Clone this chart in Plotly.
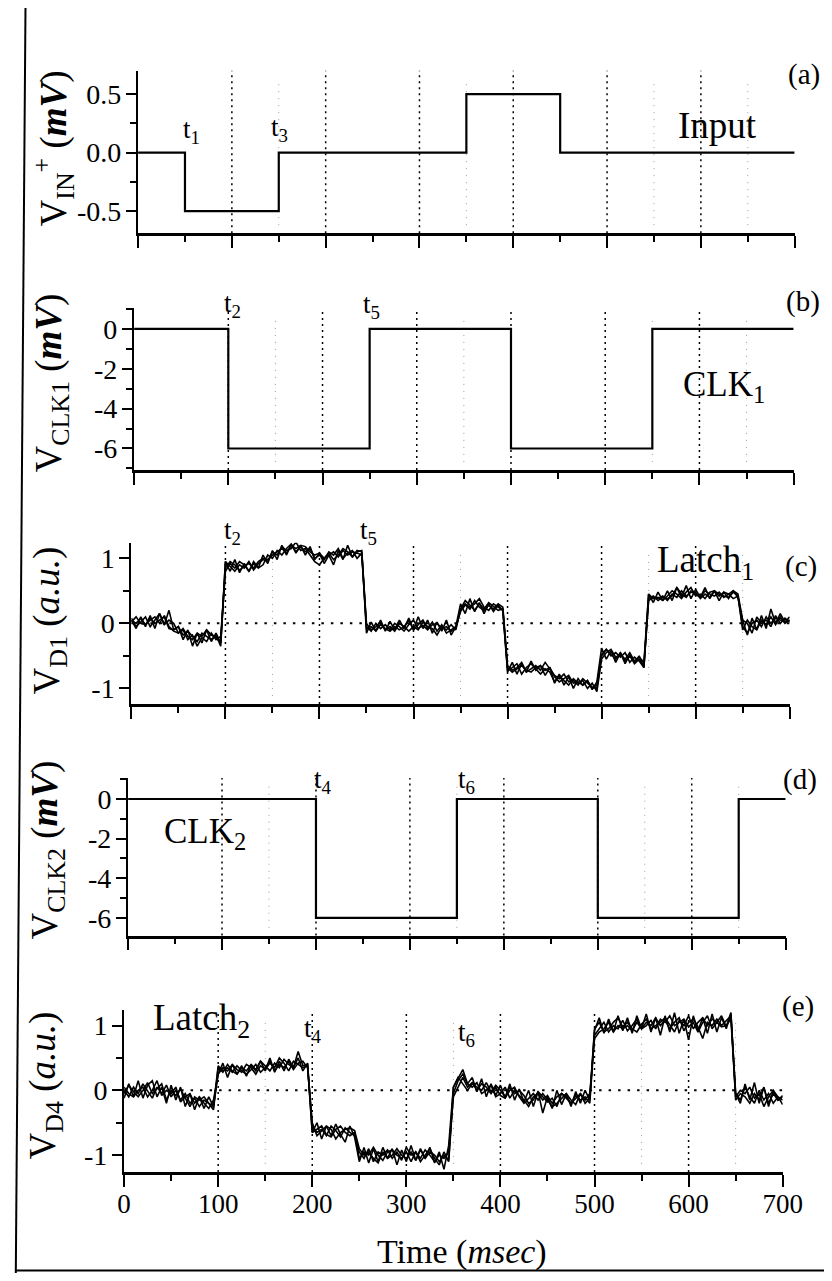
import plotly.graph_objects as go

# ---------------- data ----------------
t_ms = list(range(0, 705, 5))  # sample times of the latch recordings (ms)

input_t = [0, 50, 150, 350, 450, 700]
input_v = [0.0, -0.5, 0.0, 0.5, 0.0, 0.0]

clk1_t = [0, 100, 250, 400, 550, 700]
clk1_v = [0, -6, 0, -6, 0, 0]

clk2_t = [0, 200, 350, 500, 650, 700]
clk2_v = [0, -6, 0, -6, 0, 0]

latch1_a = [0.05, 0.0, 0.08, -0.02, 0.05, 0.1, 0.0, 0.12, -0.05, -0.12, -0.15, -0.08, -0.2, -0.25, -0.15, -0.2, -0.1, -0.18, -0.22, -0.3,
            0.85, 0.95, 0.9, 0.82, 0.88, 0.92, 0.85, 0.95, 1.0, 0.98, 1.05, 1.1, 1.15, 1.08, 1.2, 1.15, 1.2, 1.18, 1.1, 1.05, 1.08, 1.0, 1.05, 1.1, 1.02, 1.12, 1.05, 1.1, 1.08, 1.05,
            -0.05, -0.12, 0.0, -0.08, -0.02, -0.1, 0.0, -0.05, -0.12, -0.02, 0.05, -0.08, -0.03, -0.1, -0.02, 0.0, -0.08, -0.05, -0.12, -0.08,
            0.2, 0.3, 0.22, 0.35, 0.25, 0.2, 0.28, 0.22, 0.3, 0.25,
            -0.65, -0.72, -0.68, -0.6, -0.75, -0.7, -0.65, -0.72, -0.6, -0.7,
            -0.8, -0.85, -0.78, -0.9, -0.88, -0.95, -0.85, -0.92, -0.98, -1.0,
            -0.5, -0.4, -0.48, -0.55, -0.45, -0.58, -0.5, -0.62, -0.55, -0.65,
            0.35, 0.4, 0.38, 0.42, 0.35, 0.45, 0.4, 0.5, 0.42, 0.48, 0.45, 0.4, 0.5, 0.45, 0.42, 0.48, 0.4, 0.45, 0.38, 0.42,
            -0.05, -0.15, 0.0, 0.05, -0.05, 0.1, 0.0, 0.08, 0.05, 0.02, 0.05]
latch1_b = [0.05, -0.08, 0.1, -0.05, 0.12, -0.08, 0.15, -0.02, 0.2, -0.1, -0.05, -0.25, -0.1, -0.35, -0.15, -0.3, -0.1, -0.28, -0.15, -0.3,
            0.95, 0.8, 0.98, 0.78, 0.92, 0.8, 0.95, 0.85, 1.05, 0.92, 1.12, 0.98, 1.2, 1.05, 1.22, 1.08, 1.2, 1.05, 1.18, 0.98, 1.08, 0.92, 1.05, 0.9, 1.12, 0.98, 1.2, 1.02, 1.12, 1.1,
            -0.15, 0.02, -0.12, 0.05, -0.12, 0.03, -0.1, 0.05, -0.08, 0.08, -0.1, 0.1, -0.08, 0.05, -0.15, 0.02, -0.12, 0.05, -0.18, -0.05,
            0.3, 0.15, 0.38, 0.18, 0.32, 0.15, 0.3, 0.18, 0.28, 0.2,
            -0.75, -0.6, -0.78, -0.62, -0.75, -0.58, -0.72, -0.65, -0.8, -0.68,
            -0.92, -0.78, -0.95, -0.82, -1.0, -0.85, -0.95, -0.88, -1.02, -0.9,
            -0.38, -0.55, -0.42, -0.6, -0.45, -0.62, -0.48, -0.6, -0.5, -0.68,
            0.45, 0.32, 0.48, 0.35, 0.5, 0.35, 0.55, 0.4, 0.58, 0.38, 0.52, 0.4, 0.55, 0.38, 0.5, 0.35, 0.48, 0.38, 0.5, 0.4,
            0.05, -0.18, 0.08, -0.1, 0.12, -0.08, 0.22, 0.0, 0.15, 0.02, 0.1]
latch1_c = [0.08, -0.05, 0.02, 0.1, -0.05, 0.05, 0.15, -0.02, 0.05, 0.0, -0.15, -0.1, -0.25, -0.18, -0.35, -0.22, -0.28, -0.15, -0.25, -0.2,
            0.8, 0.92, 0.85, 0.95, 0.9, 0.8, 0.92, 0.85, 0.9, 1.05, 1.0, 1.12, 1.05, 1.15, 1.22, 1.1, 1.18, 1.1, 1.15, 1.0, 1.05, 0.98, 1.1, 1.05, 1.15, 1.0, 1.08, 1.12, 1.0, 1.08,
            0.0, -0.1, -0.05, 0.02, -0.1, -0.05, -0.12, 0.0, -0.05, 0.05, -0.1, -0.02, 0.05, -0.08, 0.02, -0.12, -0.02, -0.15, -0.1, -0.05,
            0.18, 0.28, 0.25, 0.3, 0.38, 0.25, 0.2, 0.3, 0.25, 0.2,
            -0.72, -0.68, -0.62, -0.78, -0.68, -0.62, -0.7, -0.78, -0.7, -0.75,
            -0.9, -0.8, -0.88, -0.95, -0.85, -0.92, -0.88, -1.0, -0.92, -1.05,
            -0.55, -0.45, -0.4, -0.52, -0.48, -0.55, -0.45, -0.58, -0.52, -0.6,
            0.45, 0.38, 0.4, 0.35, 0.42, 0.5, 0.45, 0.38, 0.48, 0.55, 0.42, 0.45, 0.38, 0.48, 0.5, 0.42, 0.48, 0.45, 0.5, 0.45,
            0.05, 0.0, -0.15, 0.1, 0.0, 0.05, -0.05, 0.12, 0.0, 0.08, 0.02]
latch1_d = [0.02, 0.1, 0.0, -0.02, 0.08, 0.0, 0.05, 0.1, -0.08, -0.1, -0.05, -0.18, -0.12, -0.2, -0.28, -0.15, -0.2, -0.25, -0.18, -0.35,
            0.95, 0.88, 0.8, 0.9, 0.85, 0.95, 0.82, 0.92, 0.98, 0.95, 1.1, 1.05, 1.18, 1.12, 1.15, 1.25, 1.12, 1.15, 1.05, 0.95, 0.9, 1.0, 1.08, 0.98, 1.05, 1.15, 1.1, 1.02, 1.1, 1.12,
            -0.08, -0.05, -0.12, -0.02, -0.08, -0.12, -0.05, -0.1, -0.05, -0.12, -0.05, -0.1, 0.02, -0.05, -0.08, -0.18, -0.05, -0.1, -0.02, -0.1,
            0.22, 0.35, 0.28, 0.2, 0.3, 0.22, 0.32, 0.26, 0.2, 0.22,
            -0.68, -0.75, -0.7, -0.65, -0.72, -0.75, -0.68, -0.65, -0.72, -0.68,
            -0.82, -0.9, -0.85, -0.8, -0.92, -0.9, -0.95, -0.88, -1.0, -0.95,
            -0.48, -0.4, -0.5, -0.45, -0.52, -0.45, -0.6, -0.52, -0.58, -0.68,
            0.38, 0.42, 0.35, 0.4, 0.38, 0.42, 0.55, 0.45, 0.4, 0.5, 0.48, 0.38, 0.45, 0.4, 0.5, 0.45, 0.42, 0.4, 0.48, 0.42,
            -0.1, 0.05, -0.05, -0.1, 0.05, -0.02, 0.1, -0.02, 0.1, 0.0, 0.05]

latch2_a = [0.0, -0.1, 0.05, -0.05, 0.1, -0.02, -0.12, 0.05, -0.05, 0.08, -0.1, 0.0, -0.15, -0.05, -0.2, -0.12, -0.25, -0.15, -0.2, -0.3,
            0.35, 0.28, 0.4, 0.3, 0.25, 0.35, 0.3, 0.4, 0.32, 0.45, 0.38, 0.3, 0.42, 0.35, 0.48, 0.4, 0.35, 0.6, 0.38, 0.4,
            -0.55, -0.65, -0.6, -0.7, -0.55, -0.62, -0.72, -0.58, -0.65, -0.7,
            -0.95, -1.05, -0.9, -1.1, -0.95, -1.0, -0.92, -1.05, -0.95, -1.08, -0.88, -1.0, -0.95, -1.1, -1.0, -0.9, -1.05, -1.15, -0.95, -1.1,
            -0.05, 0.15, 0.25, 0.1, 0.05, 0.12, -0.05, 0.0, 0.08, -0.1, -0.05, 0.05, -0.12, 0.0, -0.08, -0.15, -0.25, -0.1, -0.05, -0.15, -0.08, -0.2, -0.1, -0.05, -0.12, -0.2, -0.08, -0.15, -0.1, -0.2,
            0.85, 0.95, 1.05, 0.9, 1.0, 0.95, 1.08, 0.92, 1.0, 1.1, 0.95, 1.05, 1.0, 1.12, 1.0, 1.08, 0.95, 1.05, 1.12, 0.92, 1.05, 1.1, 0.98, 0.8, 1.05, 1.0, 1.1, 1.0, 1.08, 1.15,
            -0.05, -0.15, 0.05, -0.1, -0.2, 0.0, -0.15, -0.05, -0.2, -0.1, -0.15]
latch2_b = [-0.12, 0.1, -0.1, 0.15, -0.12, 0.08, 0.15, -0.1, 0.05, -0.2, 0.08, -0.15, 0.05, -0.25, -0.05, -0.3, -0.1, -0.28, -0.1, -0.25,
            0.25, 0.42, 0.2, 0.4, 0.25, 0.38, 0.22, 0.4, 0.3, 0.45, 0.3, 0.5, 0.28, 0.45, 0.3, 0.48, 0.35, 0.5, 0.3, 0.42,
            -0.65, -0.5, -0.75, -0.55, -0.7, -0.52, -0.68, -0.8, -0.55, -0.72,
            -1.1, -0.88, -1.12, -0.9, -1.1, -0.88, -1.05, -0.9, -1.15, -0.92, -1.1, -0.85, -1.08, -0.9, -1.05, -0.88, -1.12, -0.95, -1.22, -0.85,
            0.05, 0.18, 0.32, 0.1, 0.2, -0.02, 0.18, -0.1, 0.1, -0.08, 0.08, -0.12, 0.1, -0.15, 0.02, -0.18, 0.0, -0.25, -0.02, -0.35, -0.1, -0.28, 0.0, -0.22, -0.05, -0.25, -0.02, -0.2, 0.0, -0.15,
            0.92, 1.12, 0.88, 1.1, 0.9, 1.15, 0.92, 1.12, 0.88, 1.15, 0.95, 1.18, 0.9, 1.12, 0.85, 1.15, 0.9, 1.2, 0.88, 1.1, 0.78, 1.15, 0.92, 1.12, 0.88, 1.18, 0.9, 1.12, 0.95, 1.18,
            -0.05, -0.2, 0.1, -0.15, 0.12, -0.2, 0.05, -0.25, 0.0, -0.1, -0.22]
latch2_c = [0.05, -0.05, -0.1, 0.0, 0.05, -0.1, 0.0, 0.15, -0.08, 0.0, -0.05, 0.05, -0.18, -0.1, -0.05, -0.2, -0.1, -0.2, -0.28, -0.15,
            0.25, 0.35, 0.3, 0.4, 0.32, 0.28, 0.4, 0.35, 0.25, 0.38, 0.32, 0.42, 0.35, 0.5, 0.42, 0.3, 0.45, 0.4, 0.35, 0.38,
            -0.65, -0.6, -0.55, -0.68, -0.72, -0.6, -0.55, -0.65, -0.7, -0.65,
            -1.05, -0.95, -1.0, -0.88, -1.0, -1.08, -0.95, -0.92, -1.0, -1.05, -0.95, -1.1, -0.95, -1.05, -0.92, -1.0, -1.1, -1.0, -1.05, -0.95,
            -0.1, 0.05, 0.2, 0.05, 0.12, 0.0, 0.1, 0.05, -0.05, 0.05, -0.08, -0.12, 0.0, 0.05, -0.1, -0.2, -0.12, -0.05, -0.15, -0.05, -0.15, -0.25, -0.2, -0.12, -0.05, -0.15, -0.22, -0.05, -0.15, -0.05,
            0.8, 0.9, 0.95, 1.05, 0.9, 1.0, 0.95, 1.0, 0.92, 1.05, 0.95, 1.0, 1.08, 0.95, 1.1, 1.05, 1.15, 1.0, 1.05, 1.1, 0.98, 1.05, 0.9, 1.05, 1.15, 0.95, 1.05, 0.98, 1.0, 1.1,
            -0.1, 0.0, -0.05, 0.05, -0.12, -0.05, -0.25, -0.1, 0.0, -0.15, -0.08]
latch2_d = [-0.05, 0.08, -0.02, -0.1, 0.0, 0.12, -0.05, 0.02, 0.1, -0.15, 0.0, -0.08, 0.02, -0.12, -0.25, -0.1, -0.15, -0.1, -0.2, -0.25,
            0.38, 0.3, 0.35, 0.28, 0.38, 0.3, 0.25, 0.32, 0.4, 0.28, 0.35, 0.45, 0.3, 0.4, 0.35, 0.45, 0.32, 0.42, 0.45, 0.35,
            -0.5, -0.7, -0.62, -0.55, -0.6, -0.75, -0.65, -0.6, -0.58, -0.62,
            -0.9, -1.0, -0.95, -1.05, -1.12, -0.95, -1.05, -1.0, -0.9, -1.0, -1.05, -0.95, -1.08, -0.92, -1.05, -0.95, -1.0, -1.1, -1.0, -1.08,
            0.05, 0.2, 0.1, 0.0, 0.1, 0.05, 0.0, 0.12, -0.02, 0.08, 0.0, -0.1, 0.05, -0.05, 0.0, -0.08, -0.2, -0.15, -0.02, -0.1, -0.18, -0.12, -0.25, -0.05, -0.1, -0.2, -0.12, -0.05, -0.2, -0.12,
            0.95, 1.05, 0.9, 0.95, 1.05, 1.12, 0.98, 1.05, 0.95, 0.9, 1.02, 1.1, 0.95, 1.0, 1.05, 1.12, 1.0, 0.9, 1.08, 1.0, 1.15, 0.95, 1.05, 1.12, 1.0, 1.1, 1.05, 1.15, 0.98, 1.2,
            -0.15, -0.05, -0.1, -0.2, -0.05, -0.15, 0.05, -0.2, -0.05, -0.15, -0.1]

x_major = [0, 100, 200, 300, 400, 500, 600, 700]
x_minor = [50, 150, 250, 350, 450, 550, 650]
x_ticktext = ["0", "100", "200", "300", "400", "500", "600", "700"]
grid_x = [100, 200, 300, 400, 500, 600]
faint_grid_x = [150, 350, 550, 650]

yt_a = [-0.5, 0.0, 0.5]
yt_a_text = ["-0.5", "0.0", "0.5"]
ym_a = [-0.25, 0.25]
yt_clk = [-6, -4, -2, 0]
yt_clk_text = ["-6", "-4", "-2", "0"]
ym_clk = [-7, -5, -3, -1, 1]
yt_latch = [-1, 0, 1]
yt_latch_text = ["-1", "0", "1"]
ym_latch = [-0.5, 0.5]

# ---------------- layout geometry ----------------
W, H = 843, 1265
X_OFF, X_SCALE, Y_OFF = 13.5, 0.969, 8
FONT = "Liberation Serif"


def fx(px):  # page x pixel -> paper fraction
    return (px - X_OFF) / X_SCALE / W


def fy(py):  # page y pixel -> paper fraction
    return 1 - (py - Y_OFF) / H


# (left, right, top, bottom) page pixels of each panel's plotting box
boxes = [
    (136.7, 794, 70.7, 233.3),
    (132.7, 793, 308, 470),
    (130, 789, 542.7, 704),
    (126.7, 785, 778, 935.6),
    (122.7, 782, 1010, 1172),
]
yranges = [[-0.69, 0.70], [-7.08, 1.05], [-1.24, 1.24], [-6.9, 1.06], [-1.26, 1.24]]
yticks = [(yt_a, yt_a_text, ym_a), (yt_clk, yt_clk_text, ym_clk), (yt_latch, yt_latch_text, ym_latch),
          (yt_clk, yt_clk_text, ym_clk), (yt_latch, yt_latch_text, ym_latch)]

fig = go.Figure()


def ax_names(i):
    s = "" if i == 0 else str(i + 1)
    return "x" + s, "y" + s, "xaxis" + s, "yaxis" + s


step_sets = [(input_t, input_v), (clk1_t, clk1_v), None, (clk2_t, clk2_v), None]
noisy_sets = [None, None, [latch1_a, latch1_b, latch1_c, latch1_d], None, [latch2_a, latch2_b, latch2_c, latch2_d]]

layout_axes = {}
for i in range(5):
    xr, yr, xk, yk = ax_names(i)
    l, r, t, b = boxes[i]
    layout_axes[xk] = dict(
        domain=[fx(l), fx(r)], range=[0, 700], anchor=yr,
        showline=True, linecolor="black", linewidth=2.5,
        ticks="outside", ticklen=12, tickwidth=2, tickcolor="black",
        tickmode="array", tickvals=x_major, ticktext=x_ticktext,
        showticklabels=(i == 4), ticklabelstandoff=-6,
        tickfont=dict(family=FONT, size=27, color="black"),
        minor=dict(tickmode="array", tickvals=x_minor, ticks="outside", ticklen=6, tickwidth=2, tickcolor="black"),
        showgrid=False, zeroline=False,
    )
    tv, tt, tm = yticks[i]
    layout_axes[yk] = dict(
        domain=[fy(b), fy(t)], range=yranges[i], anchor=xr,
        showline=True, linecolor="black", linewidth=2.2,
        ticks="outside", ticklen=10, tickwidth=2, tickcolor="black",
        tickmode="array", tickvals=tv, ticktext=tt, ticklabelstandoff=-1,
        tickfont=dict(family=FONT, size=28, color="black"),
        minor=dict(tickmode="array", tickvals=tm, ticks="outside", ticklen=6, tickwidth=2, tickcolor="black"),
        showgrid=False, zeroline=False,
    )
    for gx in grid_x:
        fig.add_shape(type="line", xref=xr, yref=yr + " domain", x0=gx, x1=gx, y0=0, y1=1,
                      line=dict(color="black", width=1.5, dash="2px,4px"), layer="below")
    for gx in faint_grid_x:
        fig.add_shape(type="line", xref=xr, yref=yr + " domain", x0=gx, x1=gx, y0=0.05, y1=0.95,
                      line=dict(color="#9a9a9a", width=1, dash="1px,6px"), layer="below")
    if step_sets[i] is not None:
        sx, sy = step_sets[i]
        fig.add_trace(go.Scatter(x=sx, y=sy, mode="lines", line=dict(color="black", width=2.2, shape="hv"),
                                 xaxis=xr, yaxis=yr, showlegend=False, hoverinfo="skip"))
    if noisy_sets[i] is not None:
        fig.add_shape(type="line", xref=xr + " domain", yref=yr, x0=0, x1=1, y0=0, y1=0,
                      line=dict(color="black", width=2, dash="2.5px,7px"), layer="below")
        for run in noisy_sets[i]:
            fig.add_trace(go.Scatter(x=t_ms, y=run, mode="lines", line=dict(color="black", width=1.6),
                                     xaxis=xr, yaxis=yr, showlegend=False, hoverinfo="skip"))

annotations = []


def label(i, x_ms, py, text, size):
    """Text anchored at a time value of panel i, at a page-pixel height."""
    xr, _, _, _ = ax_names(i)
    annotations.append(dict(xref=xr, yref="paper", x=x_ms, y=fy(py), text=text, showarrow=False,
                            font=dict(family=FONT, size=size, color="black"),
                            xanchor="center", yanchor="middle"))


def page_text(px, py, text, size, angle=0):
    annotations.append(dict(xref="paper", yref="paper", x=fx(px), y=fy(py), text=text, showarrow=False,
                            font=dict(family=FONT, size=size, color="black"), textangle=angle,
                            xanchor="center", yanchor="middle"))


T_SIZE = 27
# panel (a)
label(0, 57, 131, "t<sub>1</sub>", T_SIZE)
label(0, 151, 129, "t<sub>3</sub>", T_SIZE)
label(0, 618, 125, "Input", 37)
# panel (b)
label(1, 104, 305, "t<sub>2</sub>", T_SIZE)
label(1, 252, 306, "t<sub>5</sub>", T_SIZE)
label(1, 626, 386, "CLK<sub>1</sub>", 35)
# panel (c)
label(2, 108, 532, "t<sub>2</sub>", T_SIZE)
label(2, 252, 532, "t<sub>5</sub>", T_SIZE)
label(2, 611, 562, "Latch<sub>1</sub>", 37)
# panel (d)
label(3, 208, 781, "t<sub>4</sub>", T_SIZE)
label(3, 360, 781, "t<sub>6</sub>", T_SIZE)
label(3, 82, 833, "CLK<sub>2</sub>", 35)
# panel (e)
label(4, 82, 1020, "Latch<sub>2</sub>", 37)
label(4, 201, 1030, "t<sub>4</sub>", T_SIZE)
label(4, 364, 1034, "t<sub>6</sub>", T_SIZE)

# panel letters (kept inside the visible page edge)
page_text(803, 74, "(a)", 29)
page_text(802, 301, "(b)", 29)
page_text(800, 566, "(c)", 29)
page_text(799, 779, "(d)", 29)
page_text(797, 1006, "(e)", 29)

# y-axis titles
page_text(52, 148, "V<sub>IN</sub><sup>+</sup> (<b><i>mV</i></b>)", 37, -90)
page_text(50, 383, "V<sub>CLK1</sub> (<b><i>mV</i></b>)", 37, -90)
page_text(48, 620, "V<sub>D1</sub> (<i>a.u.</i>)", 37, -90)
page_text(46, 850, "V<sub>CLK2</sub> (<b><i>mV</i></b>)", 37, -90)
page_text(44, 1085, "V<sub>D4</sub> (<i>a.u.</i>)", 37, -90)

# x-axis title
page_text(461, 1252, "Time (<i>msec</i>)", 34)

# scanned page frame (left and bottom edges)
fig.add_shape(type="line", xref="paper", yref="paper", x0=fx(24), y0=1.0, x1=0.001, y1=0.0,
              line=dict(color="black", width=2))
fig.add_shape(type="line", xref="paper", yref="paper", x0=0.0, y0=0.002, x1=1.0, y1=0.002,
              line=dict(color="black", width=2))

fig.update_layout(
    width=W, height=H,
    autosize=False,
    margin=dict(l=0, r=0, t=0, b=0, pad=0),
    paper_bgcolor="white", plot_bgcolor="white",
    showlegend=False,
    annotations=annotations,
    font=dict(family=FONT, color="black"),
    **layout_axes,
)

fig.write_html("out.html")
